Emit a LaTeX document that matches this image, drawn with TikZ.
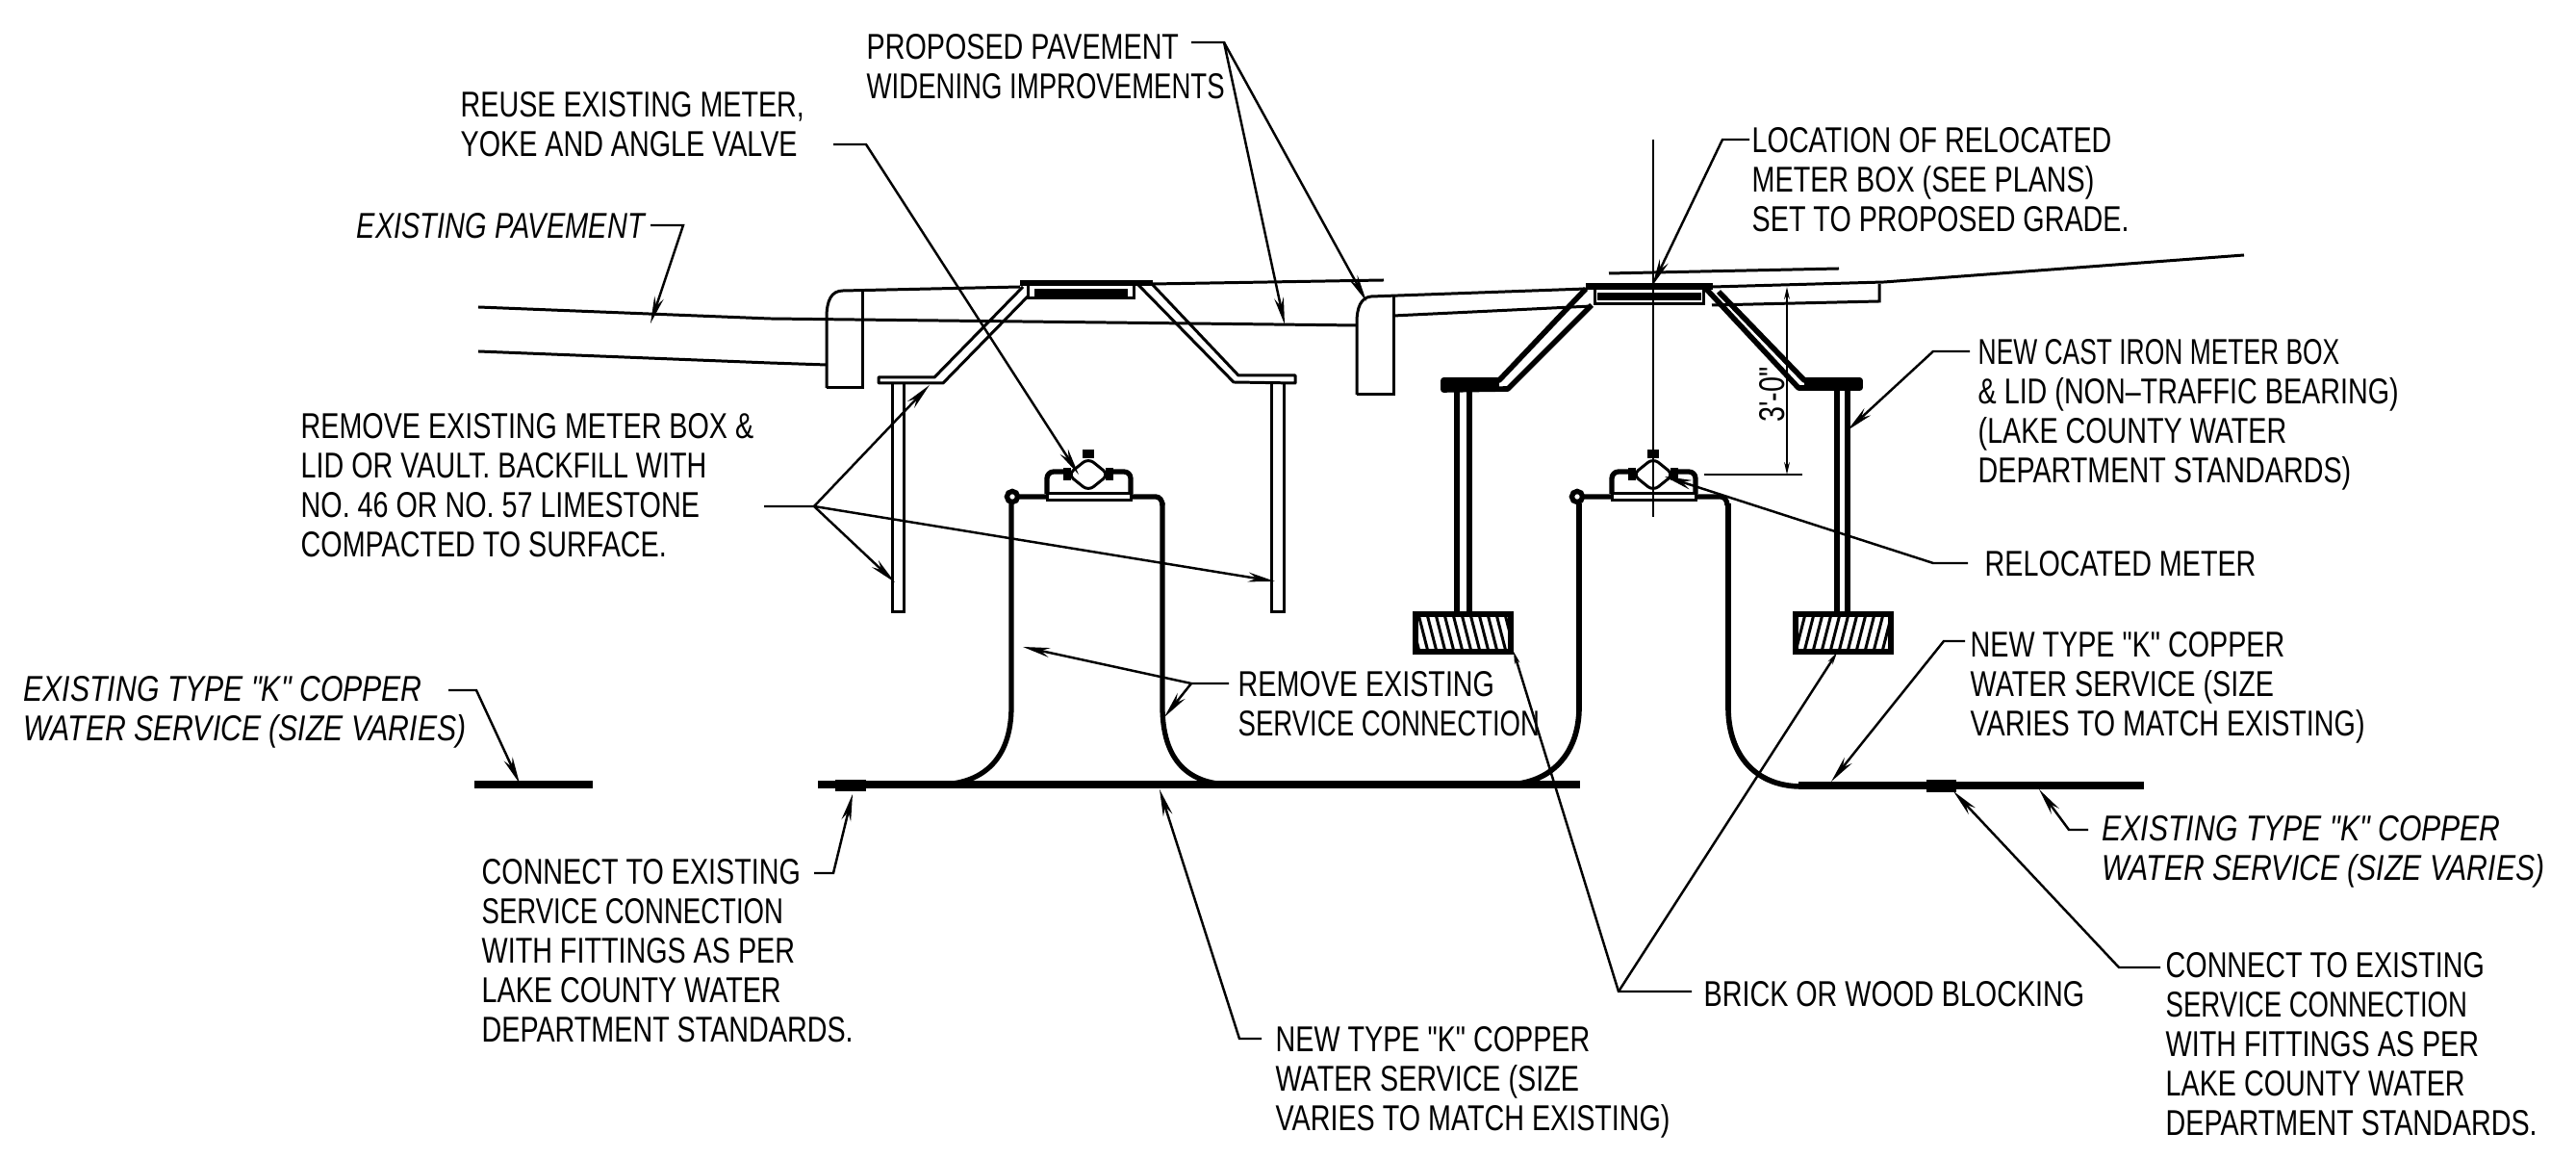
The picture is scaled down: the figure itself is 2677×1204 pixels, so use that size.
\documentclass[tikz,border=0pt]{standalone}
\usepackage{fontspec}
\setmainfont{Liberation Sans}[UprightFeatures={FakeStretch=0.77},ItalicFeatures={FakeStretch=0.81},Ligatures=TeXOff]
\usetikzlibrary{arrows.meta}
\tikzset{
  note/.style={align=left,anchor=north west,inner sep=0pt,font=\fontsize{10.6}{11.66}\selectfont,execute at begin node=\strut},
  slanted/.style={note,font=\fontsize{10.6}{11.66}\selectfont\itshape},
  leader/.style={line width=0.7pt,-{Stealth[length=8pt,width=2.8pt]}},
  tick/.style={line width=0.7pt,-{Stealth[length=3.6pt,width=1.6pt]}},
  oldline/.style={line width=0.85pt},
  newline/.style={line width=1.6pt},
  pipe/.style={line width=1.5pt},
  service/.style={line width=2pt}
}
\begin{document}
\begin{tikzpicture}[x=0.01cm,y=-0.01cm]
\useasboundingbox (0,0) rectangle (2677,1204);

% pavement
\draw[oldline] (497,319) -- (800,331) -- (1410,338);
\draw[oldline] (497,365) -- (800,377) -- (859,379);
\draw[oldline] (859,403) -- (859,330) .. controls (859,312) and (864,302) .. (876,302) -- (1060,298);
\draw[oldline] (896,302) -- (896,403) -- (859,403);
\draw[oldline] (1198,295) -- (1438,291);
\draw[oldline] (1410,410) -- (1410,335) .. controls (1410,320) and (1414,309) .. (1425,308) -- (1648,300);
\draw[oldline] (1448,308) -- (1448,410) -- (1410,410);
\draw[oldline] (1448,328) -- (1654,318);
\draw[oldline] (1780,298) -- (1958,293) -- (2332,265);
\draw[oldline] (1779,317) -- (1953,313) -- (1953,295);
\draw[oldline] (1672,284) -- (1911,279);

% existing box
\draw[oldline,line join=round] (1063,298) -- (971,392) -- (913,392) -- (913,398) -- (980,398) -- (1068,308);
\draw[oldline,line join=round] (1183,296) -- (1282,397) -- (1346,398) -- (1346,390) -- (1287,390) -- (1198,296);
\draw[oldline] (927,398) -- (927,636) -- (939,636) -- (939,398);
\draw[oldline] (1321,398) -- (1321,636) -- (1334,636) -- (1334,398);
\fill (1060,291) rectangle (1198,297);
\fill (1075,300) rectangle (1172,308);
\draw[oldline] (1068,297) -- (1068,310) -- (1178,310) -- (1178,297);

% new box
\draw[newline,line join=round] (1648,300) -- (1558,395) -- (1500,395) -- (1500,405) -- (1567,404) -- (1654,317);
\draw[newline,line join=round] (1773,300) -- (1869,403) -- (1933,403) -- (1933,395) -- (1875,395) -- (1786,303);
\fill (1500,395) rectangle (1558,404);
\fill (1875,395) rectangle (1933,403);
\draw[pipe] (1514,405) -- (1514,638);
\draw[pipe] (1527,405) -- (1527,638);
\draw[pipe] (1909,405) -- (1909,638);
\draw[pipe] (1920,405) -- (1920,638);
\fill (1648,294) rectangle (1780,301);
\fill (1660,304) rectangle (1768,312);
\draw[oldline] (1657,301) -- (1657,316) -- (1770,316) -- (1770,301);

% blocking
\begin{scope}
  \clip (1471,638) rectangle (1570,677);
  \foreach \hx in {1465,1474,...,1570}
    \draw[oldline] (\hx,638) -- (\hx+10,677);
\end{scope}
\begin{scope}
  \clip (1866,638) rectangle (1965,677);
  \foreach \hx in {1866,1875,...,1975}
    \draw[oldline] (\hx,677) -- (\hx+10,638);
\end{scope}
\draw[pipe] (1471,638) rectangle (1570,677);
\draw[pipe] (1866,638) rectangle (1965,677);

% meters
\foreach \mx in {1131,1718} {
  \begin{scope}[shift={(\mx,0)}]
    \draw[oldline,rounded corners=2pt] (0,476) -- (21,493) -- (0,510) -- (-21,493) -- cycle;
    \fill (-6,467) rectangle (6,476);
    \fill (-26,486) rectangle (-18,499);
    \fill (18,486) rectangle (26,499);
    \draw[pipe,rounded corners=2pt] (-43,513) -- (-43,490) -- (-24,490);
    \draw[pipe,rounded corners=2pt] (44,513) -- (44,490) -- (24,490);
    \draw[oldline] (-43,513) rectangle (44,520);
    \draw[pipe] (-72,516) -- (-43,516) (44,516) -- (70,516) .. controls (74,516) and (77,520) .. (77,525);
    \draw[pipe] (-79,516) circle[radius=1.6pt];
  \end{scope}
}

% service lines
\draw[pipe] (1051,523) -- (1051,734) .. controls (1051,790) and (1020,815) .. (975,815);
\draw[pipe] (1208,522) -- (1208,734) .. controls (1208,790) and (1235,815) .. (1280,815);
\draw[newline] (1641,523) -- (1641,735) .. controls (1641,780) and (1615,812) .. (1570,815);
\draw[newline] (1796,523) -- (1796,735) .. controls (1796,785) and (1825,817) .. (1872,817);
\draw[service] (850,815) -- (1642,815);
\draw[service] (1869,816) -- (2228,816);
\draw[service] (493,815) -- (616,815);
\fill (868,810) rectangle (900,822);
\fill (2002,810) rectangle (2033,823);

% center line and dimension
\draw[line width=0.5pt] (1718,145) -- (1718,537);
\draw[line width=0.7pt] (1771,493) -- (1873,493);
\coordinate (dimtop) at (1857,298);
\coordinate (dimbot) at (1857,493);
\draw[tick,{Stealth[length=3.6pt,width=1.6pt]}-{Stealth[length=3.6pt,width=1.6pt]}] (dimtop) -- (dimbot);
\node[rotate=90,inner sep=0pt,font=\fontsize{10.6}{11.66}\selectfont] (dimtxt) at (1842,410) {3'-0"};

% labels
\node[note] (proposedtxt) at (900,35) {PROPOSED PAVEMENT\\\scalebox{0.96}[1]{WIDENING IMPROVEMENTS}};
\node[note] (reusetxt) at (478,95) {REUSE EXISTING METER,\\YOKE AND ANGLE VALVE};
\node[slanted] (pavetxt) at (370,218) {\scalebox{0.96}[1]{EXISTING PAVEMENT}};
\node[note] (locationtxt) at (1820,132) {LOCATION OF RELOCATED\\METER BOX (SEE PLANS)\\SET TO PROPOSED GRADE.};
\node[note] (casttxt) at (2055,352) {\scalebox{0.92}[1]{NEW CAST IRON METER BOX}\\\& LID (NON–TRAFFIC BEARING)\\(LAKE COUNTY WATER\\DEPARTMENT STANDARDS)};
\node[note] (metertxt) at (2062,569) {RELOCATED METER};
\node[note] (boxtxt) at (312,429) {REMOVE EXISTING METER BOX \&\\LID OR VAULT. BACKFILL WITH\\NO. 46 OR NO. 57 LIMESTONE\\COMPACTED TO SURFACE.};
\node[note] (removetxt) at (1286,697) {REMOVE EXISTING\\\scalebox{0.96}[1]{SERVICE CONNECTION}};
\node[note] (newrighttxt) at (2047,656) {NEW TYPE "K" COPPER\\WATER SERVICE (SIZE\\VARIES TO MATCH EXISTING)};
\node[slanted] (oldlefttxt) at (24,702) {EXISTING TYPE "K" COPPER\\WATER SERVICE (SIZE VARIES)};
\node[note] (connlefttxt) at (500,892) {CONNECT TO EXISTING\\\scalebox{0.96}[1]{SERVICE CONNECTION}\\WITH FITTINGS AS PER\\LAKE COUNTY WATER\\DEPARTMENT STANDARDS.};
\node[slanted] (oldrighttxt) at (2184,847) {EXISTING TYPE "K" COPPER\\WATER SERVICE (SIZE VARIES)};
\node[note] (bricktxt) at (1770,1016) {BRICK OR WOOD BLOCKING};
\node[note] (newbottxt) at (1325,1066) {NEW TYPE "K" COPPER\\WATER SERVICE (SIZE\\VARIES TO MATCH EXISTING)};
\node[note] (connrighttxt) at (2250,989) {CONNECT TO EXISTING\\\scalebox{0.96}[1]{SERVICE CONNECTION}\\WITH FITTINGS AS PER\\LAKE COUNTY WATER\\DEPARTMENT STANDARDS.};

% leader ends
\coordinate (proposedstart) at (1238,44);
\coordinate (proposedelbow) at (1272,44);
\coordinate (proposedtipa) at (1335,337);
\coordinate (proposedtipb) at (1420,313);
\coordinate (reusestart) at (866,150);
\coordinate (reuseelbow) at (900,150);
\coordinate (reusetip) at (1121,493);
\coordinate (pavestart) at (676,234);
\coordinate (paveelbow) at (710,234);
\coordinate (pavetip) at (676,336);
\coordinate (locstart) at (1818,145);
\coordinate (locelbow) at (1790,145);
\coordinate (loctip) at (1717,297);
\coordinate (caststart) at (2047,365);
\coordinate (castelbow) at (2009,365);
\coordinate (casttip) at (1920,447);
\coordinate (meterstart) at (2045,585);
\coordinate (meterelbow) at (2009,585);
\coordinate (metertip) at (1730,495);
\coordinate (newrstart) at (2042,666);
\coordinate (newrelbow) at (2020,666);
\coordinate (newrtip) at (1903,812);
\coordinate (oldrstart) at (2170,862);
\coordinate (oldrelbow) at (2150,862);
\coordinate (oldrtip) at (2119,820);
\coordinate (connrstart) at (2245,1005);
\coordinate (connrelbow) at (2202,1005);
\coordinate (connrtip) at (2030,822);
\coordinate (brickstart) at (1758,1030);
\coordinate (brickelbow) at (1682,1030);
\coordinate (bricktipa) at (1573,677);
\coordinate (bricktipb) at (1909,678);
\coordinate (remstart) at (1277,710);
\coordinate (remelbow) at (1238,710);
\coordinate (remtipa) at (1063,672);
\coordinate (remtipb) at (1210,745);
\coordinate (boxstart) at (794,526);
\coordinate (boxelbow) at (846,526);
\coordinate (boxtipa) at (966,400);
\coordinate (boxtipb) at (930,605);
\coordinate (boxtipc) at (1325,604);
\coordinate (oldlstart) at (466,717);
\coordinate (oldlelbow) at (495,717);
\coordinate (oldltip) at (540,814);
\coordinate (connlstart) at (846,907);
\coordinate (connlelbow) at (866,907);
\coordinate (connltip) at (886,825);
\coordinate (newbstart) at (1311,1079);
\coordinate (newbelbow) at (1288,1079);
\coordinate (newbtip) at (1205,820);

% leaders
\draw[leader] (proposedstart) -- (proposedelbow) -- (proposedtipa);
\draw[leader] (proposedelbow) -- (proposedtipb);
\draw[leader] (reusestart) -- (reuseelbow) -- (reusetip);
\draw[leader] (pavestart) -- (paveelbow) -- (pavetip);
\draw[leader] (locstart) -- (locelbow) -- (loctip);
\draw[leader] (caststart) -- (castelbow) -- (casttip);
\draw[leader] (meterstart) -- (meterelbow) -- (metertip);
\draw[leader] (newrstart) -- (newrelbow) -- (newrtip);
\draw[leader] (oldrstart) -- (oldrelbow) -- (oldrtip);
\draw[leader] (connrstart) -- (connrelbow) -- (connrtip);
\draw[tick] (brickstart) -- (brickelbow) -- (bricktipa);
\draw[tick] (brickelbow) -- (bricktipb);
\draw[leader] (remstart) -- (remelbow) -- (remtipa);
\draw[leader] (remelbow) -- (remtipb);
\draw[leader] (boxstart) -- (boxelbow) -- (boxtipa);
\draw[leader] (boxelbow) -- (boxtipb);
\draw[leader] (boxelbow) -- (boxtipc);
\draw[leader] (oldlstart) -- (oldlelbow) -- (oldltip);
\draw[leader] (connlstart) -- (connlelbow) -- (connltip);
\draw[leader] (newbstart) -- (newbelbow) -- (newbtip);
\end{tikzpicture}
\end{document}
